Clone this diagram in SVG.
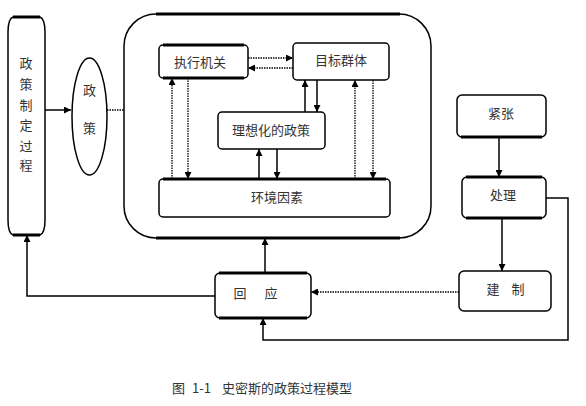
<svg xmlns="http://www.w3.org/2000/svg" width="586" height="406" viewBox="0 0 586 406">
<defs>
<marker id="ah" viewBox="0 0 10 10" refX="10" refY="5" markerWidth="7" markerHeight="7" markerUnits="userSpaceOnUse" orient="auto"><path d="M0,0 L10,5 L0,10 Z" fill="#000"/></marker>
<style>
.box{fill:#fff;stroke:#000;stroke-width:1.5}
.edge{stroke:#000;stroke-width:3}
.t{font-family:"Noto Sans CJK SC","Noto Sans CJK JP",sans-serif;font-size:13px;fill:#333;text-anchor:middle}
.cap{font-family:"Noto Sans CJK SC","Noto Sans CJK JP",sans-serif;font-size:13px;fill:#333}
.ln{fill:none;stroke:#000;stroke-width:1.5}
.dt{fill:none;stroke:#000;stroke-width:1.3;stroke-dasharray:1.5 1}
</style>
</defs>
<g id="system">
<rect class="box" x="124" y="14" width="307" height="224" rx="32"/>
<line class="edge" x1="156" y1="14" x2="400" y2="14"/><line class="edge" x1="156" y1="238" x2="400" y2="238"/>
</g>
<g id="connectors">
<line class="ln" x1="45" y1="110" x2="71" y2="110" marker-end="url(#ah)"/>
<line class="dt" x1="107" y1="110" x2="124" y2="110"/>
<line class="dt" x1="248" y1="58" x2="293" y2="58" marker-end="url(#ah)"/>
<line class="dt" x1="293" y1="68" x2="248" y2="68" marker-end="url(#ah)"/>
<line class="ln" x1="305" y1="112" x2="305" y2="80" marker-end="url(#ah)"/>
<line class="ln" x1="317" y1="80" x2="317" y2="112" marker-end="url(#ah)"/>
<line class="ln" x1="259" y1="179" x2="259" y2="149" marker-end="url(#ah)"/>
<line class="ln" x1="277" y1="149" x2="277" y2="179" marker-end="url(#ah)"/>
<line class="dt" x1="172" y1="179" x2="172" y2="78" marker-end="url(#ah)"/>
<line class="dt" x1="188" y1="78" x2="188" y2="179" marker-end="url(#ah)"/>
<line class="dt" x1="355" y1="179" x2="355" y2="80" marker-end="url(#ah)"/>
<line class="dt" x1="373" y1="80" x2="373" y2="179" marker-end="url(#ah)"/>
<line class="ln" x1="499" y1="137" x2="499" y2="177" marker-end="url(#ah)"/>
<line class="ln" x1="502" y1="218" x2="502" y2="271" marker-end="url(#ah)"/>
<polyline class="ln" points="546,198 568,198 568,340 263,340 263,318" marker-end="url(#ah)"/>
<line class="dt" x1="459" y1="292" x2="311" y2="292" marker-end="url(#ah)"/>
<line class="ln" x1="265" y1="273" x2="265" y2="238" marker-end="url(#ah)"/>
<polyline class="ln" points="215,296 27,296 27,235" marker-end="url(#ah)"/>
</g>
<g id="process">
<path class="box" d="M13,17 L40,17 Q45,19 45,32 L45,220 Q45,233 40,235 L13,235 Q8,233 8,220 L8,32 Q8,19 13,17 Z"/>
<line class="edge" x1="13" y1="17" x2="40" y2="17"/><line class="edge" x1="13" y1="235" x2="40" y2="235"/>
<text class="t" x="26" y="68">政</text><text class="t" x="26" y="89">策</text><text class="t" x="26" y="110">制</text><text class="t" x="26" y="130">定</text><text class="t" x="26" y="151">过</text><text class="t" x="26" y="170">程</text>
</g>
<g id="policy">
<ellipse class="box" cx="89.5" cy="116.5" rx="17.5" ry="58.5"/>
<text class="t" x="89.5" y="95">政</text><text class="t" x="89.5" y="133">策</text>
</g>
<g id="agency">
<rect class="box" x="159" y="45" width="89" height="33" rx="4"/>
<line class="edge" x1="163" y1="45" x2="244" y2="45"/><line class="edge" x1="163" y1="78" x2="244" y2="78"/>
<text class="t" x="200" y="67">执行机关</text>
</g>
<g id="target">
<rect class="box" x="293" y="43" width="96" height="37" rx="4"/>
<text class="t" x="341" y="65">目标群体</text>
</g>
<g id="ideal">
<rect class="box" x="218" y="112" width="107" height="37" rx="4"/>
<text class="t" x="271" y="135">理想化的政策</text>
</g>
<g id="env">
<rect class="box" x="159" y="179" width="231" height="38" rx="4"/>
<line class="edge" x1="163" y1="179" x2="386" y2="179"/>
<text class="t" x="277" y="202">环境因素</text>
</g>
<g id="tension">
<rect class="box" x="457" y="95" width="89" height="42" rx="5"/>
<line class="edge" x1="461" y1="137" x2="542" y2="137"/>
<text class="t" x="501" y="118">紧张</text>
</g>
<g id="handle">
<rect class="box" x="462" y="177" width="84" height="41" rx="5"/>
<line class="edge" x1="466" y1="177" x2="542" y2="177"/><line class="edge" x1="466" y1="218" x2="542" y2="218"/>
<text class="t" x="503" y="200">处理</text>
</g>
<g id="build">
<rect class="box" x="459" y="271" width="92" height="40" rx="5"/>
<text class="t" x="493" y="294">建</text><text class="t" x="518" y="294">制</text>
</g>
<g id="response">
<rect class="box" x="215" y="273" width="96" height="45" rx="5"/>
<line class="edge" x1="219" y1="273" x2="307" y2="273"/><line class="edge" x1="219" y1="318" x2="307" y2="318"/>
<text class="t" x="240" y="298">回</text><text class="t" x="271" y="298">应</text>
</g>
<g id="caption">
<text class="cap" x="172" y="393">图</text><text class="cap" x="192" y="393">1-1</text><text class="cap" x="222" y="393">史密斯的政策过程模型</text>
</g>
</svg>
